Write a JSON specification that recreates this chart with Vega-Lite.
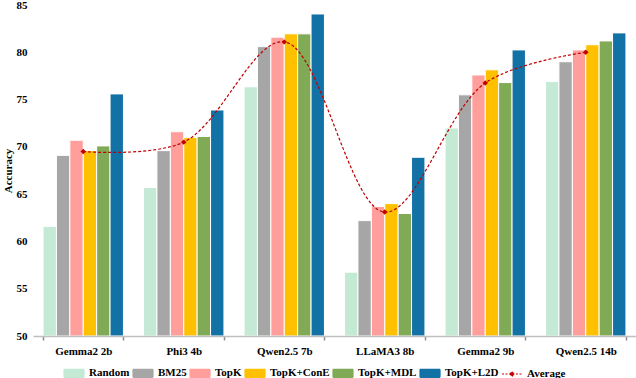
{
  "$schema": "https://vega.github.io/schema/vega-lite/v6.json",
  "width": 603,
  "height": 331,
  "autosize": {"type": "none"},
  "padding": {"left": 33, "top": 5, "right": 0, "bottom": 42},
  "background": "white",
  "config": {
    "view": {"stroke": null},
    "font": "Liberation Serif"
  },
  "data": {
    "values": [
      {"model": "Gemma2 2b", "method": "Random", "value": 61.6},
      {"model": "Gemma2 2b", "method": "BM25", "value": 69.1},
      {"model": "Gemma2 2b", "method": "TopK", "value": 70.7},
      {"model": "Gemma2 2b", "method": "TopK+ConE", "value": 69.6},
      {"model": "Gemma2 2b", "method": "TopK+MDL", "value": 70.1},
      {"model": "Gemma2 2b", "method": "TopK+L2D", "value": 75.6},
      {"model": "Gemma2 2b", "method": "Average", "value": 69.5},
      {"model": "Phi3 4b", "method": "Random", "value": 65.7},
      {"model": "Phi3 4b", "method": "BM25", "value": 69.6},
      {"model": "Phi3 4b", "method": "TopK", "value": 71.6},
      {"model": "Phi3 4b", "method": "TopK+ConE", "value": 71.0},
      {"model": "Phi3 4b", "method": "TopK+MDL", "value": 71.1},
      {"model": "Phi3 4b", "method": "TopK+L2D", "value": 73.9},
      {"model": "Phi3 4b", "method": "Average", "value": 70.5},
      {"model": "Qwen2.5 7b", "method": "Random", "value": 76.35},
      {"model": "Qwen2.5 7b", "method": "BM25", "value": 80.6},
      {"model": "Qwen2.5 7b", "method": "TopK", "value": 81.6},
      {"model": "Qwen2.5 7b", "method": "TopK+ConE", "value": 81.95},
      {"model": "Qwen2.5 7b", "method": "TopK+MDL", "value": 81.95},
      {"model": "Qwen2.5 7b", "method": "TopK+L2D", "value": 84.05},
      {"model": "Qwen2.5 7b", "method": "Average", "value": 81.1},
      {"model": "LLaMA3 8b", "method": "Random", "value": 56.75},
      {"model": "LLaMA3 8b", "method": "BM25", "value": 62.2},
      {"model": "LLaMA3 8b", "method": "TopK", "value": 63.7},
      {"model": "LLaMA3 8b", "method": "TopK+ConE", "value": 64.0},
      {"model": "LLaMA3 8b", "method": "TopK+MDL", "value": 62.95},
      {"model": "LLaMA3 8b", "method": "TopK+L2D", "value": 68.9},
      {"model": "LLaMA3 8b", "method": "Average", "value": 63.1},
      {"model": "Gemma2 9b", "method": "Random", "value": 72.0},
      {"model": "Gemma2 9b", "method": "BM25", "value": 75.5},
      {"model": "Gemma2 9b", "method": "TopK", "value": 77.6},
      {"model": "Gemma2 9b", "method": "TopK+ConE", "value": 78.15},
      {"model": "Gemma2 9b", "method": "TopK+MDL", "value": 76.8},
      {"model": "Gemma2 9b", "method": "TopK+L2D", "value": 80.25},
      {"model": "Gemma2 9b", "method": "Average", "value": 76.75},
      {"model": "Qwen2.5 14b", "method": "Random", "value": 76.9},
      {"model": "Qwen2.5 14b", "method": "BM25", "value": 79.0},
      {"model": "Qwen2.5 14b", "method": "TopK", "value": 80.25},
      {"model": "Qwen2.5 14b", "method": "TopK+ConE", "value": 80.8},
      {"model": "Qwen2.5 14b", "method": "TopK+MDL", "value": 81.2},
      {"model": "Qwen2.5 14b", "method": "TopK+L2D", "value": 82.05},
      {"model": "Qwen2.5 14b", "method": "Average", "value": 80.0}
    ]
  },
  "encoding": {
    "x": {
      "field": "model", "type": "nominal",
      "sort": ["Gemma2 2b", "Phi3 4b", "Qwen2.5 7b", "LLaMA3 8b", "Gemma2 9b", "Qwen2.5 14b"],
      "scale": {"paddingInner": 0.2, "paddingOuter": 0.1},
      "axis": {"title": null, "labelAngle": 0, "tickBand": "extent", "domainColor": "#BFBFBF", "domainWidth": 1.5, "tickColor": "#8C8C8C", "tickWidth": 1.5, "tickSize": 4, "labelPadding": 5, "labelFont": "Liberation Serif", "labelFontWeight": "bold", "labelFontSize": 11, "labelColor": "black", "zindex": 1}
    },
    "y": {
      "field": "value", "type": "quantitative",
      "scale": {"domain": [50, 85], "zero": false, "nice": false},
      "axis": {"title": "Accuracy", "titleFont": "Liberation Serif", "titleFontSize": 11, "titleFontWeight": "bold", "titleColor": "black", "labelFont": "Liberation Serif", "labelFontWeight": "bold", "labelFontSize": 11, "labelColor": "black", "values": [50, 55, 60, 65, 70, 75, 80, 85], "grid": false, "domain": false, "ticks": false, "labelPadding": 6, "titlePadding": 3}
    },
    "color": {
      "field": "method", "type": "nominal",
      "scale": {
        "domain": ["Random", "BM25", "TopK", "TopK+ConE", "TopK+MDL", "TopK+L2D", "Average"],
        "range": ["#C4E9D5", "#A6A6A6", "#FF9E9B", "#FFC000", "#80AA55", "#1271A5", "#C00000"]
      },
      "legend": {
        "title": null, "orient": "none", "direction": "horizontal", "legendX": 30, "legendY": 357,
        "labelFont": "Liberation Serif", "labelFontSize": 11, "labelFontWeight": "bold", "labelColor": "black",
        "symbolSize": 400, "symbolType": "M-1,-0.4H1V0.4H-1Z", "labelOffset": 4, "columnPadding": 0,
        "encode": {
          "symbols": {
            "update": {
              "shape": {"signal": "datum.value === 'Average' ? 'M-1,0H1M-0.18,0L0,-0.25L0.18,0L0,0.25Z' : 'M-1,-0.4H1V0.4H-1Z'"},
              "fill": {"scale": "color", "field": "value"},
              "stroke": {"signal": "datum.value === 'Average' ? '#C00000' : 'transparent'"},
              "strokeDash": {"signal": "datum.value === 'Average' ? [2, 1.5] : [1, 0]"},
              "strokeWidth": {"value": 1.2},
              "opacity": {"value": 1}
            }
          }
        }
      }
    }
  },
  "layer": [
    {
      "transform": [{"filter": "datum.method !== 'Average'"}],
      "mark": {"type": "bar", "stroke": "white", "strokeWidth": 1},
      "encoding": {
        "xOffset": {"field": "method", "type": "nominal", "sort": ["Random", "BM25", "TopK", "TopK+ConE", "TopK+MDL", "TopK+L2D"], "scale": {"paddingInner": 0, "paddingOuter": 0}},
        "y2": {"datum": 50}
      }
    },
    {
      "transform": [{"filter": "datum.method === 'Average'"}],
      "mark": {"type": "line", "interpolate": "catmull-rom", "strokeDash": [3, 2], "strokeWidth": 1.2},
      "encoding": {}
    },
    {
      "transform": [{"filter": "datum.method === 'Average'"}],
      "mark": {"type": "point", "filled": true, "shape": "diamond", "size": 30, "opacity": 1},
      "encoding": {}
    }
  ]
}
